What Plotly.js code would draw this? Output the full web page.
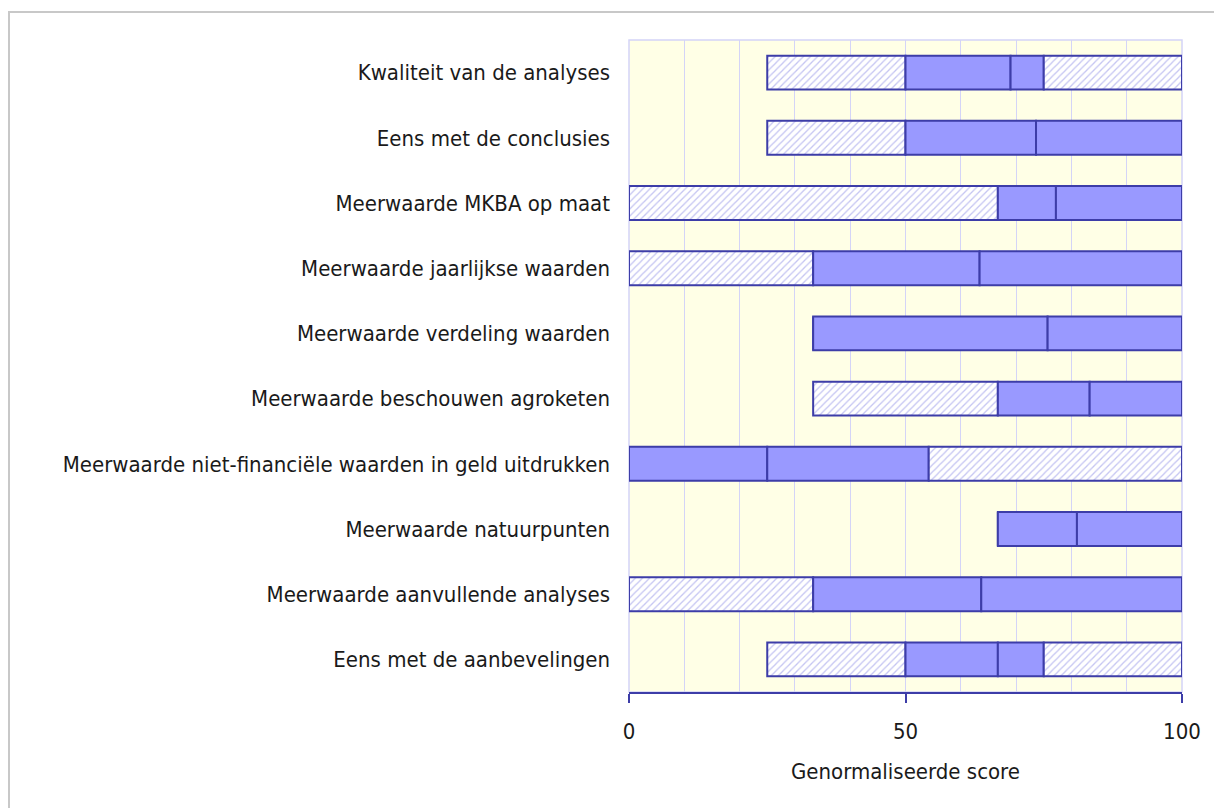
<!DOCTYPE html>
<html>
<head>
<meta charset="utf-8">
<script src="https://cdn.plot.ly/plotly-3.0.1.min.js"></script>
<style>
  html, body { margin: 0; padding: 0; background: #ffffff; }
  #wrap { position: relative; width: 1214px; height: 808px; overflow: hidden; }
  #frame { position: absolute; left: 8px; top: 11px; width: 1300px; height: 900px;
           border-left: 2px solid #c8c8c8; border-top: 2px solid #c8c8c8; pointer-events: none; }
  #chart { position: absolute; left: 0; top: 0; width: 1214px; height: 808px; }
</style>
</head>
<body>
<div id="wrap">
  <div id="frame"></div>
  <div id="chart"></div>
</div>
<script>
// Categories (top to bottom)
const categories = [
  "Kwaliteit van de analyses",
  "Eens met de conclusies",
  "Meerwaarde MKBA op maat",
  "Meerwaarde jaarlijkse waarden",
  "Meerwaarde verdeling waarden",
  "Meerwaarde beschouwen agroketen",
  "Meerwaarde niet-financiële waarden in geld uitdrukken",
  "Meerwaarde natuurpunten",
  "Meerwaarde aanvullende analyses",
  "Eens met de aanbevelingen"
];
// Box statistics (normalised score 0-100)
const minimum = [25, 25, 0, 0, 33.3, 33.3, 0, 66.7, 0, 25];
const q1      = [50, 50, 66.7, 33.3, 33.3, 66.7, 0, 66.7, 33.3, 50];
const median  = [69, 73.6, 77.2, 63.4, 75.7, 83.3, 25, 81, 63.7, 66.7];
const q3      = [75, 100, 100, 100, 100, 100, 54.2, 100, 100, 75];
const maximum = [100, 100, 100, 100, 100, 100, 100, 100, 100, 100];

const tickVals = [0, 50, 100];
const axisTitle = "Genormaliseerde score";

const FONT = "Tahoma, 'DejaVu Sans Condensed', 'DejaVu Sans', sans-serif";
const edge = "#3d3da8";
const fill = "#9999ff";
const txt = "#1a1a1a";

function diff(a, b) { return a.map((v, i) => v - b[i]); }

const hatched = {
  color: "#ffffff",
  line: { color: edge, width: 2 },
  pattern: { shape: "/", fgcolor: "#c4c4f2", bgcolor: "#ffffff", size: 5, solidity: 0.25 }
};
const solid = { color: fill, line: { color: edge, width: 2 } };

function seg(base, len, marker) {
  return {
    type: "bar", orientation: "h", y: categories, base: base, x: len,
    width: 0.52, marker: marker, hoverinfo: "skip", showlegend: false
  };
}

const traces = [
  seg(minimum, diff(q1, minimum), hatched),
  seg(q1, diff(median, q1), solid),
  seg(median, diff(q3, median), solid),
  seg(q3, diff(maximum, q3), hatched)
];

const layout = {
  width: 1214, height: 808,
  margin: { l: 629, r: 32, t: 40, b: 116, pad: 0 },
  paper_bgcolor: "rgba(0,0,0,0)",
  plot_bgcolor: "#ffffe6",
  barmode: "overlay",
  font: { family: FONT, size: 22, color: txt },
  xaxis: {
    range: [0, 100],
    showgrid: true, gridcolor: "#d4d4f7", gridwidth: 1,
    zeroline: false,
    showline: true, linecolor: edge, linewidth: 2,
    tickmode: "array", tickvals: tickVals, ticktext: tickVals.map(String),
    ticks: "outside", ticklen: 9, tickwidth: 2, tickcolor: edge,
    ticklabelstandoff: 10,
    tickfont: { family: FONT, size: 22, color: txt },
    title: { text: axisTitle, font: { family: FONT, size: 22, color: txt }, standoff: 20 },
    minor: { tickmode: "linear", tick0: 0, dtick: 10, showgrid: true, gridcolor: "#d4d4f7", gridwidth: 1, ticks: "" },
    fixedrange: true
  },
  yaxis: {
    type: "category", categoryorder: "array", categoryarray: categories,
    autorange: "reversed",
    showgrid: false, zeroline: false, showline: false,
    ticks: "", ticklabelstandoff: 18,
    tickfont: { family: FONT, size: 22, color: txt },
    fixedrange: true
  },
  shapes: [{
    type: "rect", xref: "paper", yref: "paper", x0: 0, x1: 1, y0: 0, y1: 1,
    line: { color: "#d4d4f7", width: 1.5 }, fillcolor: "rgba(0,0,0,0)", layer: "below"
  }]
};

Plotly.newPlot("chart", traces, layout, { displayModeBar: false, staticPlot: true });
</script>
</body>
</html>
